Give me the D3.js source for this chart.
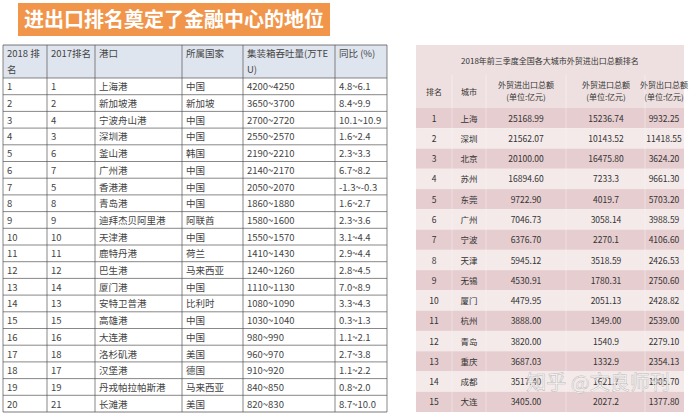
<!DOCTYPE html>
<html><head><meta charset="utf-8">
<script src="https://cdn.jsdelivr.net/npm/d3@7"></script>
<style>body{margin:0;background:#fff}</style></head>
<body><svg id="c" width="690" height="415"></svg>
<script>
const title = "进出口排名奠定了金融中心的地位";
const portHeaders = [["2018 排","名"],["2017排名"],["港口"],["所属国家"],["集装箱吞吐量(万TE","U)"],["同比 (%)"]];
const rank2018 = [1,2,3,4,5,6,7,8,9,10,11,12,13,14,15,16,17,18,19,20];
const rank2017 = [1,2,4,3,6,7,5,8,9,10,11,12,14,13,15,16,18,17,19,21];
const ports = ["上海港","新加坡港","宁波舟山港","深圳港","釜山港","广州港","香港港","青岛港","迪拜杰贝阿里港","天津港","鹿特丹港","巴生港","厦门港","安特卫普港","高雄港","大连港","洛杉矶港","汉堡港","丹戎帕拉帕斯港","长滩港"];
const countries = ["中国","新加坡","中国","中国","韩国","中国","中国","中国","阿联酋","中国","荷兰","马来西亚","中国","比利时","中国","中国","美国","德国","马来西亚","美国"];
const teu = ["4200~4250","3650~3700","2700~2720","2550~2570","2190~2210","2140~2170","2050~2070","1860~1880","1580~1600","1550~1570","1410~1430","1240~1260","1110~1130","1080~1090","1030~1040","980~990","960~970","910~920","840~850","820~830"];
const yoy = ["4.8~6.1","8.4~9.9","10.1~10.9","1.6~2.4","2.3~3.3","6.7~8.2","-1.3~-0.3","1.6~2.7","2.3~3.6","3.1~4.4","2.9~4.4","2.8~4.5","7.0~8.9","3.3~4.3","0.3~1.3","1.1~2.1","2.7~3.8","1.1~2.2","0.8~2.0","8.7~10.0"];

const cityTitle = "2018年前三季度全国各大城市外贸进出口总额排名";
const cityHeaders = [["排名"],["城市"],["外贸进出口总额","(单位:亿元)"],["外贸进口总额","(单位:亿元)"],["外贸出口总额","(单位:亿元)"]];
const cityRank = [1,2,3,4,5,6,7,8,9,10,11,12,13,14,15];
const cities = ["上海","深圳","北京","苏州","东莞","广州","宁波","天津","无锡","厦门","杭州","青岛","重庆","成都","大连"];
const total = ["25168.99","21562.07","20100.00","16894.60","9722.90","7046.73","6376.70","5945.12","4530.91","4479.95","3888.00","3820.00","3687.03","3517.40","3405.00"];
const imports = ["15236.74","10143.52","16475.80","7233.3","4019.7","3058.14","2270.1","3518.59","1780.31","2051.13","1349.00","1540.9","1332.9","1621.7","2027.2"];
const exports_ = ["9932.25","11418.55","3624.20","9661.30","5703.20","3988.59","4106.60","2426.53","2750.60","2428.82","2539.00","2279.10","2354.13","1905.70","1377.80"];

const svg = d3.select("#c");
svg.append("rect").attr("x",18).attr("y",3).attr("width",312).attr("height",33).attr("fill","#f0954a");
svg.append("text").attr("x",174).attr("y",27).attr("text-anchor","middle").attr("fill","#fff")
  .attr("font-family","Noto Sans CJK SC").attr("font-weight","bold").attr("font-size",20).text(title);

const colEdges = [3,47,95,182,243,335,387];
const lx = d3.scaleOrdinal().domain(d3.range(6)).range(colEdges.slice(0,6));
const ly = d3.scaleBand().domain(rank2018).range([78,412]);
const L = svg.append("g").attr("font-family","Noto Sans CJK SC").attr("font-size",9.5).attr("fill","#444");
L.append("rect").attr("x",3).attr("y",45).attr("width",384).attr("height",33).attr("fill","#dfe5ee");
portHeaders.forEach((h,i)=>h.forEach((t,j)=>L.append("text").attr("x",lx(i)+4).attr("y",57+j*16).text(t)));
const rows = rank2018.map((r,i)=>[r,rank2017[i],ports[i],countries[i],teu[i],yoy[i]]);
rows.forEach((row)=>row.forEach((v,i)=>L.append("text").attr("x",lx(i)+4).attr("y",ly(row[0])+ly.bandwidth()/2+4).text(v)));
rank2018.forEach(r=>L.append("line").attr("x1",3).attr("x2",387).attr("y1",ly(r)).attr("y2",ly(r)).attr("stroke","#555").attr("stroke-width",0.7));
[45,412].forEach(y=>L.append("line").attr("x1",3).attr("x2",387).attr("y1",y).attr("y2",y).attr("stroke","#555").attr("stroke-width",0.8));
colEdges.forEach(x=>L.append("line").attr("x1",x).attr("x2",x).attr("y1",45).attr("y2",412).attr("stroke","#555").attr("stroke-width",0.7));

const rEdges = [416,452,486,566,645,684];
const rc = [434,469,526,606,664];
const ry = d3.scaleBand().domain(cityRank).range([108,412]);
const R = svg.append("g").attr("font-family","Noto Sans CJK SC").attr("fill","#333");
R.append("rect").attr("x",416).attr("y",45).attr("width",268).attr("height",63).attr("fill","#eee0e0");
R.append("text").attr("x",550).attr("y",64).attr("text-anchor","middle").attr("font-size",8).text(cityTitle);
cityHeaders.forEach((h,i)=>h.forEach((t,j)=>R.append("text").attr("x",rc[i]).attr("y",(h.length==1?95:88)+j*12).attr("text-anchor","middle").attr("font-size",8).text(t)));
const crow = cityRank.map((r,i)=>[r,cities[i],total[i],imports[i],exports_[i]]);
crow.forEach(row=>{
  R.append("rect").attr("x",416).attr("y",ry(row[0])).attr("width",268).attr("height",ry.bandwidth())
   .attr("fill",row[0]%2?"#e6cdcf":"#f4eaea");
  row.forEach((v,i)=>R.append("text").attr("x",rc[i]).attr("y",ry(row[0])+ry.bandwidth()/2+3.5).attr("text-anchor","middle").attr("font-size",8.5).text(v));
});
rEdges.slice(1,-1).forEach(x=>R.append("line").attr("x1",x).attr("x2",x).attr("y1",75).attr("y2",412).attr("stroke","#fff").attr("stroke-width",0.6).attr("opacity",0.6));
svg.append("text").attr("x",598).attr("y",390).attr("text-anchor","middle").attr("font-family","Noto Sans CJK SC")
  .attr("font-size",20).attr("fill","#fff").attr("opacity",0.75).attr("stroke","#aaa").attr("stroke-width",0.5).text("知乎 @文良师刊");
</script></body></html>
